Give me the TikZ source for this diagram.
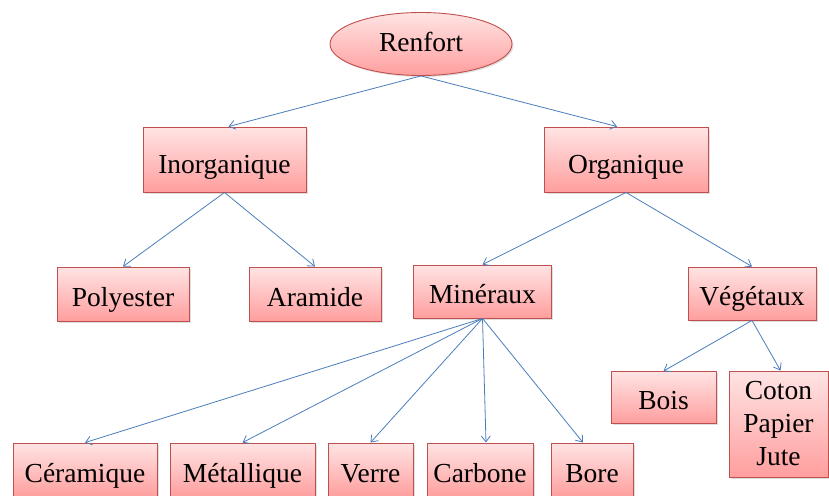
\documentclass[tikz,border=0pt]{standalone}
\usepackage{fontspec}
\setmainfont{Liberation Serif}
\newfontfamily\timesx{Liberation Serif}
\usetikzlibrary{shapes.geometric,shadows,arrows.meta}
\definecolor{bordr}{HTML}{C0504D}
\definecolor{topc}{HTML}{FFE4E4}
\definecolor{botc}{HTML}{FF9E9E}
\definecolor{arr}{HTML}{4A7EBB}
\tikzset{
  boxbase/.style={draw=bordr, line width=0.9pt, top color=topc, bottom color=botc,
    inner sep=0pt, align=center, font=\timesx\fontsize{27.5}{33}\selectfont,
    drop shadow={shadow xshift=1.5pt, shadow yshift=-1.5pt, opacity=0.25}},
  boxn/.style={boxbase, rectangle, text height=25pt, text depth=1pt},
  bigbox/.style={boxbase, rectangle, text height=27pt, text depth=0pt},
  multibox/.style={boxbase, rectangle},
  ellnode/.style={boxbase, ellipse, text height=21pt, text depth=5pt},
  conn/.style={draw=arr, line width=0.8pt, -{Straight Barb[length=6pt,width=9pt]}}
}
\begin{document}
\begin{tikzpicture}[x=1pt,y=-1pt]
\useasboundingbox (0,0) rectangle (829,495);
\node[ellnode, minimum width=182, minimum height=63] (ren) at (421,44) {Renfort};
\node[bigbox, minimum width=163, minimum height=65] (ino) at (224.5,159.5) {Inorganique};
\node[bigbox, minimum width=164, minimum height=65] (org) at (626,159.5) {Organique};
\node[boxn, minimum width=132, minimum height=54] (pol) at (123,294) {Polyester};
\node[boxn, minimum width=132, minimum height=54] (ara) at (315,294) {Aramide};
\node[boxn, minimum width=138, minimum height=53] (min) at (482.5,291.5) {Minéraux};
\node[boxn, minimum width=128, minimum height=53] (veg) at (752,293.5) {Végétaux};
\node[boxn, minimum width=105, minimum height=52] (boi) at (663.5,397.5) {Bois};
\node[multibox, minimum width=99, minimum height=106] (cot) at (778.5,424) {Coton\\Papier\\Jute};
\node[boxn, minimum width=144, minimum height=54] (cer) at (85,470) {Céramique};
\node[boxn, minimum width=145, minimum height=54] (met) at (242.5,470) {Métallique};
\node[boxn, minimum width=85, minimum height=54] (ver) at (370.5,470) {Verre};
\node[boxn, minimum width=106, minimum height=54] (car) at (480,470) {Carbone};
\node[boxn, minimum width=82, minimum height=54] (bor) at (592,470) {Bore};
\draw[conn] (ren.south) -- ([xshift=4pt]ino.north);
\draw[conn] (ren.south) -- ([xshift=-9pt]org.north);
\draw[conn] (ino.south) -- (pol.north);
\draw[conn] (ino.south) -- (ara.north);
\draw[conn] (org.south) -- (min.north);
\draw[conn] (org.south) -- (veg.north);
\draw[conn] (min.south) -- (cer.north);
\draw[conn] (min.south) -- (met.north);
\draw[conn] (min.south) -- (ver.north);
\draw[conn] (min.south) -- ([xshift=6pt]car.north);
\draw[conn] (min.south) -- ([xshift=-9pt]bor.north);
\draw[conn] (veg.south) -- (boi.north);
\draw[conn] (veg.south) -- ([xshift=2pt]cot.north);
\end{tikzpicture}
\end{document}
